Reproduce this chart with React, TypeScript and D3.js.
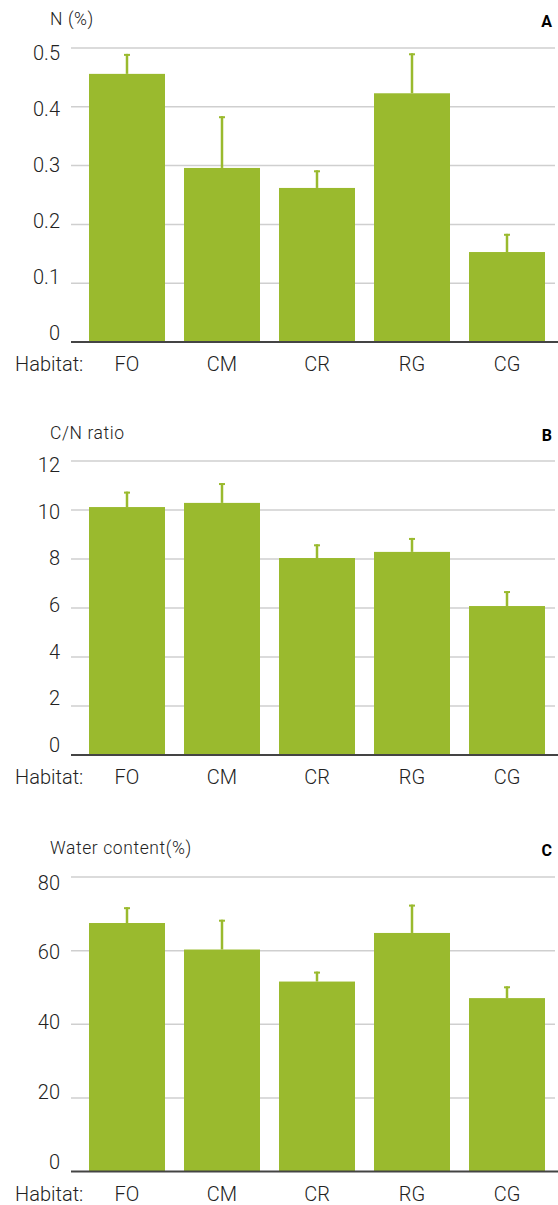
import React from "react";
import * as d3 from "d3";

const categories = ["FO", "CM", "CR", "RG", "CG"];

const nValues = [0.456, 0.296, 0.262, 0.423, 0.153];
const nErrors = [0.034, 0.088, 0.03, 0.068, 0.031];
const nTicks = [0, 0.1, 0.2, 0.3, 0.4, 0.5];

const cnValues = [10.12, 10.29, 8.04, 8.29, 6.08];
const cnErrors = [0.63, 0.81, 0.56, 0.57, 0.61];
const cnTicks = [0, 2, 4, 6, 8, 10, 12];

const waterValues = [67.5, 60.3, 51.6, 64.8, 47.1];
const waterErrors = [4.3, 8.1, 2.7, 7.7, 3.2];
const waterTicks = [0, 20, 40, 60, 80];

const GREEN = "#9aba2e";
const FONT = "Roboto, 'DejaVu Sans', sans-serif";

type PanelProps = {
  title: string;
  letter: string;
  values: number[];
  errors: number[];
  ticks: number[];
  yMax: number;
  y0: number;
  yTop: number;
  labelY0: number;
  labelYTop: number;
  titleY: number;
};

function Panel(p: PanelProps) {
  const x = d3
    .scaleBand<string>()
    .domain(categories)
    .range([79.5, 554.5])
    .paddingInner(0.2)
    .paddingOuter(0.1);
  const y = d3.scaleLinear().domain([0, p.yMax]).range([p.y0, p.yTop]);
  const yl = d3.scaleLinear().domain([0, p.yMax]).range([p.labelY0, p.labelYTop]);
  const fmt = (v: number) => (p.yMax < 1 && v !== 0 ? d3.format(".1f")(v) : String(v));
  const bw = x.bandwidth();
  return (
    <g>
      <text
        x={50}
        y={p.titleY}
        fontFamily={FONT}
        fontSize={17.5}
        fontWeight={300}
        letterSpacing={0.6}
        fill="#222"
      >
        {p.title}
      </text>
      <text x={552} y={p.titleY + 2} textAnchor="end" fontFamily={FONT} fontSize={16} fontWeight={700} fill="#000">
        {p.letter}
      </text>
      {p.ticks
        .filter((t) => t !== 0)
        .map((t) => (
          <line key={"g" + t} x1={71} x2={555} y1={y(t)} y2={y(t)} stroke="#cfcfcf" strokeWidth={1.5} />
        ))}
      {p.ticks.map((t) => (
        <text
          key={"t" + t}
          x={60}
          y={yl(t)}
          dy="0.35em"
          textAnchor="end"
          fontFamily={FONT}
          fontSize={20}
          fontWeight={300}
          fill="#222"
        >
          {fmt(t)}
        </text>
      ))}
      {categories.map((c, i) => {
        const cx = (x(c) as number) + bw / 2;
        const top = y(p.values[i]);
        const et = y(p.values[i] + p.errors[i]);
        return (
          <g key={c}>
            <rect x={x(c)} y={top} width={bw} height={p.y0 - top} fill={GREEN} />
            <line x1={cx} x2={cx} y1={top} y2={et} stroke={GREEN} strokeWidth={2.5} />
            <line x1={cx - 3} x2={cx + 3} y1={et + 1} y2={et + 1} stroke={GREEN} strokeWidth={2} />
          </g>
        );
      })}
      <line x1={71} x2={558} y1={p.y0} y2={p.y0} stroke="#444" strokeWidth={2} />
      <text x={15} y={p.y0 + 29} fontFamily={FONT} fontSize={20} fontWeight={300} fill="#222">
        Habitat:
      </text>
      {categories.map((c) => (
        <text
          key={"l" + c}
          x={(x(c) as number) + bw / 2}
          y={p.y0 + 29}
          textAnchor="middle"
          fontFamily={FONT}
          fontSize={20}
          fontWeight={300}
          fill="#222"
        >
          {c}
        </text>
      ))}
    </g>
  );
}

export default function App() {
  return (
    <svg
      width={558}
      height={1205}
      style={{ position: "absolute", left: 0, top: 0, background: "#fff" }}
    >
      <rect width={558} height={1205} fill="#fff" />
      <Panel
        title="N (%)"
        letter="A"
        values={nValues}
        errors={nErrors}
        ticks={nTicks}
        yMax={0.5}
        y0={342}
        yTop={48}
        labelY0={333}
        labelYTop={52.5}
        titleY={25}
      />
      <Panel
        title="C/N ratio"
        letter="B"
        values={cnValues}
        errors={cnErrors}
        ticks={cnTicks}
        yMax={12}
        y0={755}
        yTop={461}
        labelY0={745}
        labelYTop={465}
        titleY={439}
      />
      <Panel
        title="Water content(%)"
        letter="C"
        values={waterValues}
        errors={waterErrors}
        ticks={waterTicks}
        yMax={80}
        y0={1171.5}
        yTop={877}
        labelY0={1161.5}
        labelYTop={882.5}
        titleY={854}
      />
    </svg>
  );
}
